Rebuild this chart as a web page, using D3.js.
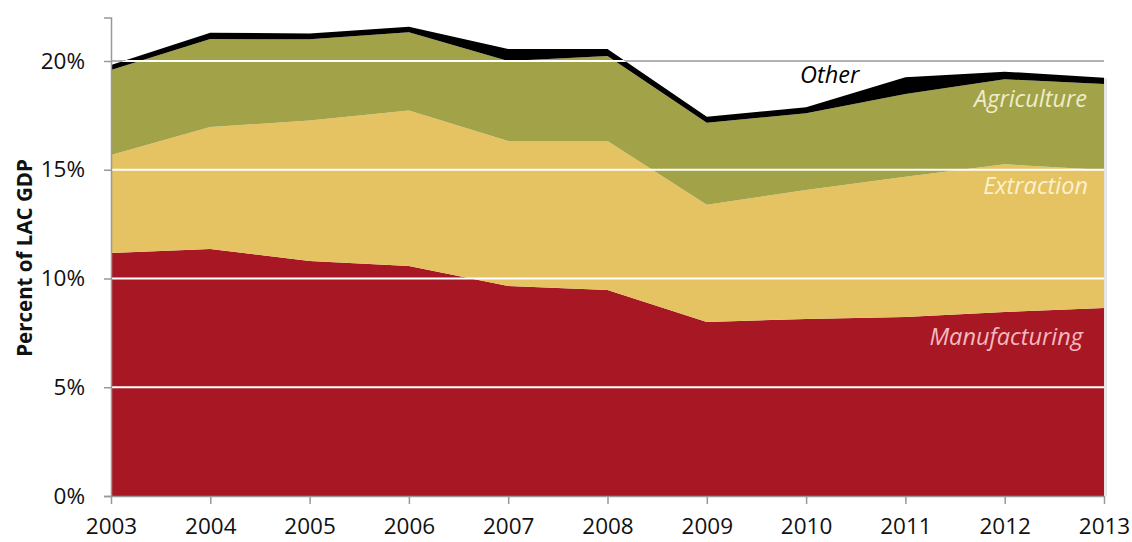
<!DOCTYPE html>
<html>
<head>
<meta charset="utf-8">
<script src="https://cdn.jsdelivr.net/npm/d3@7"></script>
<style>
  body { margin: 0; background: #fff; }
  text { font-family: "Open Sans", sans-serif; }
</style>
</head>
<body>
<div id="chart"></div>
<script>
var years = [2003, 2004, 2005, 2006, 2007, 2008, 2009, 2010, 2011, 2012, 2013]
var manufacturing = [11.17, 11.36, 10.80, 10.57, 9.66, 9.47, 8.00, 8.14, 8.23, 8.46, 8.64]
var extraction    = [4.51, 5.61, 6.46, 7.15, 6.66, 6.85, 5.39, 5.93, 6.45, 6.79, 6.35]
var agriculture   = [3.91, 4.04, 3.74, 3.60, 3.68, 3.91, 3.77, 3.53, 3.80, 3.91, 3.95]
var other         = [0.23, 0.29, 0.27, 0.26, 0.55, 0.32, 0.28, 0.27, 0.77, 0.35, 0.29]
var yTicks = [0, 5, 10, 15, 20]

var width = 1132,
    height = 542

var keys = ["manufacturing", "extraction", "agriculture", "other"]
var colors = {manufacturing: "#a81824", extraction: "#e6c362", agriculture: "#a2a349", other: "#000000"}

var rows = years.map(function(y, i) {
  return {year: y, manufacturing: manufacturing[i], extraction: extraction[i],
          agriculture: agriculture[i], other: other[i]}
})

var svg = d3.select("#chart").append("svg")
    .attr("width", width)
    .attr("height", height)

var x = d3.scaleLinear().domain([2003, 2013]).range([111, 1104])
var y = d3.scaleLinear().domain([0, 22]).range([496, 17.5])

var series = d3.stack().keys(keys)(rows)

var area = d3.area()
    .x(function(d) { return x(d.data.year) })
    .y0(function(d) { return y(d[0]) })
    .y1(function(d) { return y(d[1]) })

// gray gridlines behind
svg.append("g").selectAll("line")
    .data(yTicks.filter(function(t) { return t > 0 }))
    .enter().append("line")
    .attr("x1", x(2003)).attr("x2", x(2013))
    .attr("y1", function(d) { return y(d) }).attr("y2", function(d) { return y(d) })
    .attr("stroke", "#9a9a9a").attr("stroke-width", 1.5)

// slight shadow on the right edge
svg.append("rect")
    .attr("x", x(2013)).attr("y", y(19.2))
    .attr("width", 3).attr("height", y(0) - y(19.2))
    .attr("fill", "#e6e6e6")

svg.append("g").selectAll("path")
    .data(series)
    .enter().append("path")
    .attr("d", area)
    .attr("fill", function(d) { return colors[d.key] })

// white gridlines on top of the areas
var total = d3.area()
    .x(function(d) { return x(d.data.year) })
    .y0(y(0))
    .y1(function(d) { return y(d[1]) })

svg.append("clipPath").attr("id", "clipTotal")
    .append("path").attr("d", total(series[series.length - 1]))

svg.append("g").attr("clip-path", "url(#clipTotal)")
    .selectAll("line")
    .data(yTicks.filter(function(t) { return t > 0 }))
    .enter().append("line")
    .attr("x1", x(2003)).attr("x2", x(2013))
    .attr("y1", function(d) { return y(d) }).attr("y2", function(d) { return y(d) })
    .attr("stroke", "#ffffff").attr("stroke-width", 2)

// axes
var yAxis = d3.axisLeft(y)
    .tickValues(yTicks)
    .tickSize(7)
    .tickPadding(19)
    .tickFormat(function(d) { return d + "%" })

var gy = svg.append("g")
    .attr("transform", "translate(" + x(2003) + ",0)")
    .call(yAxis)
gy.select(".domain").attr("stroke", "#999").attr("stroke-width", 1.5)
gy.selectAll(".tick line").attr("stroke", "#999").attr("stroke-width", 1.5)
gy.selectAll(".tick text")
    .attr("font-family", "Open Sans")
    .attr("font-size", "22.5px")
    .attr("fill", "#111")

var xAxis = d3.axisBottom(x)
    .tickValues(years)
    .tickSize(8)
    .tickPadding(14)
    .tickSizeOuter(0)
    .tickFormat(d3.format("d"))

var gx = svg.append("g")
    .attr("transform", "translate(0," + y(0) + ")")
    .call(xAxis)
gx.select(".domain").attr("stroke", "#999").attr("stroke-width", 1.5)
gx.selectAll(".tick line").attr("stroke", "#999").attr("stroke-width", 1.5)
gx.selectAll(".tick text")
    .attr("font-family", "Open Sans")
    .attr("font-size", "22.5px")
    .attr("fill", "#111")

svg.append("text")
    .attr("transform", "translate(32,258) rotate(-90)")
    .attr("text-anchor", "middle")
    .attr("font-family", "Open Sans")
    .attr("font-size", "20.5px")
    .attr("font-weight", "bold")
    .attr("fill", "#111")
    .text("Percent of LAC GDP")

// series labels
var labels = [
  {text: "Other", x: 800, y: 83, anchor: "start", fill: "#000"},
  {text: "Agriculture", x: 1087, y: 107, anchor: "end", fill: "#efeccb"},
  {text: "Extraction", x: 1088, y: 194, anchor: "end", fill: "#fbf1d0"},
  {text: "Manufacturing", x: 1083, y: 345, anchor: "end", fill: "#f3b9c0"}
]

svg.append("g").selectAll("text")
    .data(labels)
    .enter().append("text")
    .attr("x", function(d) { return d.x })
    .attr("y", function(d) { return d.y })
    .attr("text-anchor", function(d) { return d.anchor })
    .attr("font-family", "Open Sans")
    .attr("font-style", "italic")
    .attr("font-size", "23.5px")
    .attr("fill", function(d) { return d.fill })
    .text(function(d) { return d.text })
</script>
</body>
</html>
